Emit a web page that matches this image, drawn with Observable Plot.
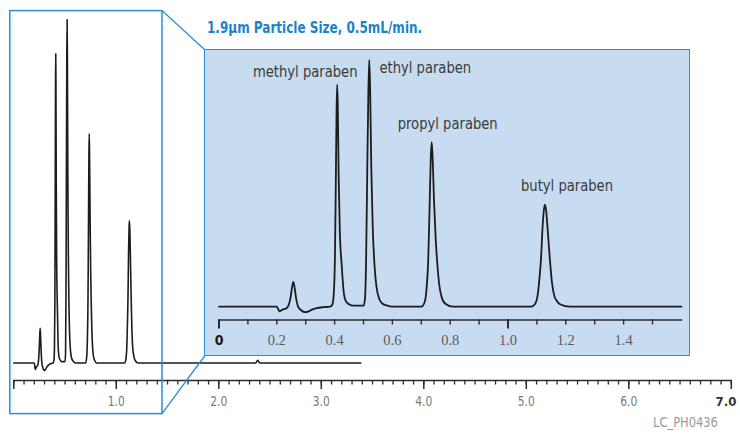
<!DOCTYPE html>
<html><head><meta charset="utf-8">
<script src="https://cdn.jsdelivr.net/npm/d3@7"></script>
<script src="https://cdn.jsdelivr.net/npm/@observablehq/plot@0.6"></script>
<style>
body{margin:0;background:#fff;}
#wrap{position:relative;width:740px;height:433px;overflow:hidden;font-family:"DejaVu Sans Condensed","DejaVu Sans",sans-serif;}
#main{position:absolute;left:0;top:0;}
#inset{position:absolute;left:204px;top:49px;width:484px;height:305px;background:#c7dcf0;border:1.5px solid #2a8fd5;}
#deco{position:absolute;left:0;top:0;}
#title{position:absolute;left:207px;top:18px;font-weight:bold;font-size:16.5px;color:#1b83c6;white-space:nowrap;transform:scaleX(0.81);transform-origin:0 0;}
#code{position:absolute;left:653px;top:414px;font-size:14.5px;color:#9a9a9a;white-space:nowrap;transform:scaleX(0.88);transform-origin:0 0;}
</style></head>
<body>
<div id="wrap">
  <div id="main"></div>
  <div id="inset"></div>
  <svg id="deco" width="740" height="433"></svg>
  <div id="title">1.9μm Particle Size, 0.5mL/min.</div>
  <div id="code">LC_PH0436</div>
</div>
<script>
// ---- data ----
const traceTime = [0.000,0.200,0.205,0.210,0.216,0.224,0.234,0.242,0.248,0.253,0.257,0.261,0.266,0.272,0.280,0.290,0.298,0.308,0.320,0.338,0.360,0.384,
  0.392,0.397,0.401,0.404,0.407,0.409,0.411,0.414,0.418,0.4245,0.4325,0.440,0.450,0.465,
  0.500,0.505,0.509,0.513,0.517,0.520,0.523,0.527,0.532,0.538,0.545,0.555,0.565,0.580,0.600,
  0.700,0.712,0.718,0.724,0.729,0.733,0.736,0.739,0.744,0.750,0.755,0.762,0.770,0.782,0.810,
  1.080,1.093,1.103,1.110,1.114,1.120,1.125,1.128,1.132,1.138,1.145,1.152,1.160,1.168,1.180,1.215,
  1.600,2.360,2.380,2.400,3.385];
const traceSignal = [0,0,-0.010,-0.019,-0.014,-0.010,-0.006,0.010,0.040,0.080,0.101,0.082,0.040,0.006,-0.010,-0.019,-0.022,-0.020,-0.013,-0.006,-0.002,0,
  0.008,0.050,0.190,0.480,0.810,0.900,0.820,0.530,0.310,0.170,0.050,0.020,0.010,0.004,
  0.004,0.030,0.190,0.550,0.880,1.000,0.880,0.560,0.320,0.170,0.080,0.030,0.013,0.005,0,
  0,0.020,0.070,0.190,0.420,0.610,0.667,0.610,0.430,0.270,0.180,0.090,0.040,0.013,0,
  0,0.010,0.050,0.130,0.190,0.330,0.400,0.414,0.390,0.300,0.190,0.100,0.045,0.025,0.010,0,
  0,0,0.008,0,0];
const peakNames = ["methyl paraben","ethyl paraben","propyl paraben","butyl paraben"];
const peakTimes = [0.409,0.520,0.736,1.128];
const peakHeights = [0.900,1.000,0.667,0.414];
const mainTicks = [1,2,3,4,5,6,7];
const mainTickLabels = ["1.0","2.0","3.0","4.0","5.0","6.0","7.0"];
const insetTicks = [0,0.2,0.4,0.6,0.8,1.0,1.2,1.4];
const insetTickLabels = ["0","0.2","0.4","0.6","0.8","1.0","1.2","1.4"];

const trace = traceTime.map((t,i)=>({t, s: traceSignal[i]}));
const peaks = peakNames.map((n,i)=>({name:n, t:peakTimes[i], s:peakHeights[i]}));
const FONT = '"DejaVu Sans Condensed","DejaVu Sans",sans-serif';
const minorMain = d3.range(0,71).map(i=>i/10);
const minorInset = d3.range(0,16).map(i=>i/10);

// narrow the (condensed) text a little further, keeping it as real text
function narrow(svg, labels, factor){
  d3.select(svg).selectAll("text").each(function(){
    if (labels.includes(this.textContent)) {
      const w = this.getComputedTextLength();
      this.setAttribute("textLength", (w*factor).toFixed(1));
      this.setAttribute("lengthAdjust", "spacingAndGlyphs");
    }
  });
}

// ---- main chromatogram ----
const main = Plot.plot({
  width:740, height:433,
  marginLeft:13.3, marginRight:9.2, marginTop:19, marginBottom:53,
  x:{domain:[0,7]},
  y:{domain:[0,1], range:[362.5,19], axis:null},
  style:{background:"transparent", fontFamily:FONT, overflow:"visible"},
  marks:[
    Plot.frame({anchor:"bottom", stroke:"#2b2b2b", strokeWidth:1.5}),
    Plot.axisX({ticks:minorMain, tickSize:4.5, tickFormat:()=>"", label:null, stroke:"#2b2b2b", strokeWidth:1.3}),
    Plot.axisX({ticks:[0,1,2,3,4,5,6,7], tickSize:9, tickFormat:()=>"", label:null, stroke:"#2b2b2b", strokeWidth:1.5}),
    Plot.axisX({ticks:mainTicks.slice(0,6), tickSize:0, tickPadding:16, label:null, fontSize:14, fill:"#7a7a7a",
      tickFormat:d=>mainTickLabels[mainTicks.indexOf(d)]}),
    Plot.axisX({ticks:[7], tickSize:0, tickPadding:16, label:null, fontSize:13, fill:"#333", fontWeight:"bold", textAnchor:"end", dx:5,
      tickFormat:d=>mainTickLabels[mainTicks.indexOf(d)]}),
    Plot.line(trace, {x:"t", y:"s", stroke:"#1c1c1c", strokeWidth:1.6, curve:"monotone-x", strokeLinejoin:"round"})
  ]
});
document.getElementById("main").append(main);
narrow(main, mainTickLabels.slice(0,6), 0.85);

// ---- zoomed inset (first 1.6 min) ----
const inset = Plot.plot({
  width:484, height:305,
  marginLeft:13.5, marginRight:8.1, marginTop:10, marginBottom:35.5,
  x:{domain:[0,1.6]},
  y:{domain:[0,1], range:[256.2,9.5], axis:null},
  style:{background:"transparent", fontFamily:FONT, overflow:"visible"},
  marks:[
    Plot.frame({anchor:"bottom", stroke:"#2b2b2b", strokeWidth:1.5}),
    Plot.axisX({ticks:minorInset, tickSize:5, tickFormat:()=>"", label:null, stroke:"#2b2b2b", strokeWidth:1.4}),
    Plot.axisX({ticks:[0,1], tickSize:9, tickFormat:()=>"", label:null, stroke:"#2b2b2b", strokeWidth:2}),
    Plot.axisX({ticks:insetTicks.slice(1), tickSize:0, tickPadding:15, label:null, fontSize:14.5, fill:"#5a5a5a",
      fontFamily:'"Liberation Serif",serif', tickFormat:d=>insetTickLabels[insetTicks.indexOf(d)]}),
    Plot.axisX({ticks:[0], tickSize:0, tickPadding:15, label:null, fontSize:14, fill:"#1a1a1a", fontWeight:"bold",
      tickFormat:d=>insetTickLabels[insetTicks.indexOf(d)]}),
    Plot.line(trace.filter(d=>d.t<=1.6), {x:"t", y:"s", stroke:"#1c1c1c", strokeWidth:1.8, curve:"monotone-x", strokeLinejoin:"round"}),
    Plot.text(peaks.filter(d=>d.name==="methyl paraben"), {x:"t", y:"s", text:"name", dx:-32, dy:-13, fontSize:16.5, fill:"#3a3a3a"}),
    Plot.text(peaks.filter(d=>d.name==="ethyl paraben"), {x:"t", y:"s", text:"name", dx:56, dy:8, fontSize:16.5, fill:"#3a3a3a"}),
    Plot.text(peaks.filter(d=>d.name==="propyl paraben"), {x:"t", y:"s", text:"name", dx:16, dy:-18, fontSize:16.5, fill:"#3a3a3a"}),
    Plot.text(peaks.filter(d=>d.name==="butyl paraben"), {x:"t", y:"s", text:"name", dx:22, dy:-18.5, fontSize:16.5, fill:"#3a3a3a"})
  ]
});
document.getElementById("inset").append(inset);
narrow(inset, peakNames, 0.885);

// ---- zoom box and connectors ----
const deco = d3.select("#deco");
deco.append("rect").attr("x",9.8).attr("y",10.6).attr("width",152.2).attr("height",403)
  .attr("fill","none").attr("stroke","#2a8fd5").attr("stroke-width",1.5);
deco.append("line").attr("x1",162).attr("y1",10.6).attr("x2",205).attr("y2",50)
  .attr("stroke","#2a8fd5").attr("stroke-width",1.3);
deco.append("line").attr("x1",162).attr("y1",413.6).attr("x2",205).attr("y2",355.5)
  .attr("stroke","#2a8fd5").attr("stroke-width",1.3);
</script>
</body></html>
